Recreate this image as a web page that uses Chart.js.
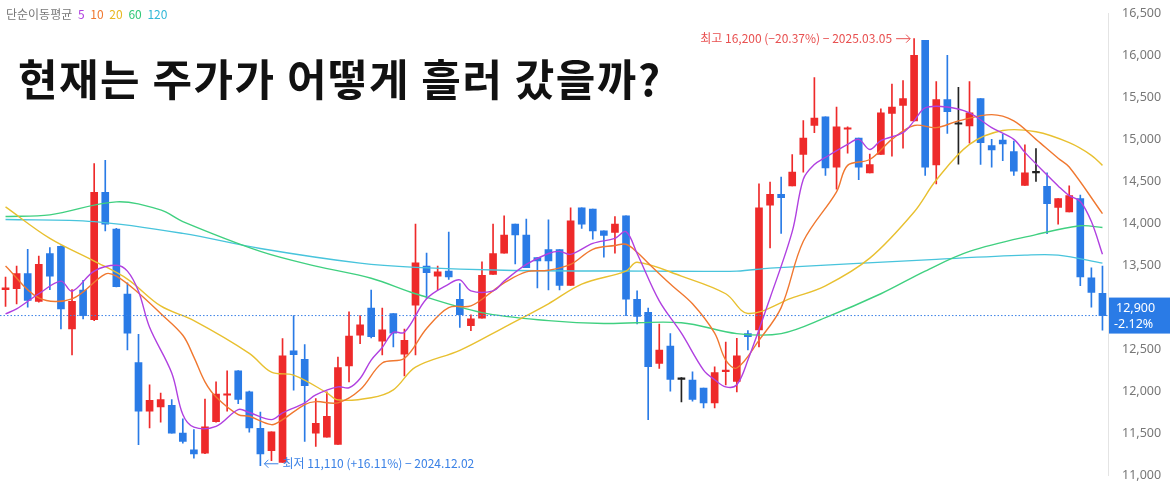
<!DOCTYPE html>
<html>
<head>
<meta charset="utf-8">
<script src="https://cdn.jsdelivr.net/npm/chart.js@4.4.1/dist/chart.umd.min.js"></script>
<style>
  html, body { margin: 0; padding: 0; background: #fff; }
  #wrap { position: relative; width: 1170px; height: 495px; }
  #title { position: absolute; left: 18px; top: 46px; font: 700 43px "Noto Sans CJK KR", sans-serif; color: #111; letter-spacing: 1.5px; }
  #legend { position: absolute; left: 6px; top: 5px; font: 12px "Noto Sans CJK KR", sans-serif; color: #777; }
  #legend span { margin-left: 3px; }
</style>
</head>
<body>
<div id="wrap">
  <canvas id="c" width="1170" height="495"></canvas>
  <div id="legend">단순이동평균 <span style="color:#b040e0">5</span> <span style="color:#f07830">10</span> <span style="color:#e8b820">20</span> <span style="color:#30c878">60</span> <span style="color:#30b8d8">120</span></div>
  <div id="title">현재는 주가가 어떻게 흘러 갔을까?</div>
</div>
<script>
const opens = [13210,13220,13400,13070,13640,13725,12740,13205,12850,14370,13930,13155,12340,11760,11810,11830,11500,11300,11260,11635,
  11950,12240,11990,11555,11290,11150,12480,12380,11500,11450,11365,12300,12665,12990,12595,12925,12440,13025,13490,13370,
  13430,13095,12780,12870,13390,13645,13990,13860,13590,13685,13685,13260,14185,14170,13910,13890,14090,13095,12940,12330,
  12535,12140,12130,12035,11860,12230,12115,12685,12730,14215,14345,14445,14820,15165,15270,14670,15120,15015,14600,14820,
  15310,15405,15220,16180,14695,15475,15180,15160,15485,14925,14990,14855,14450,14600,14440,14190,14135,14295,13350,13165];
const highs = [13360,13490,13690,13610,13710,13730,13210,13320,14710,14750,13940,13290,12675,12075,11975,11900,11670,11540,11905,12110,
  12240,12245,12000,11750,11515,12625,12900,12555,11910,11990,12405,12945,12900,13205,12990,12925,12740,13990,13645,13490,
  13895,13280,12910,13540,13990,14090,13990,14050,13590,14040,13685,14185,14185,14170,13910,14080,14090,13195,12990,12800,
  12685,12160,12230,12035,12290,12585,12630,12720,14470,14490,14550,14820,15225,15735,15270,15385,15150,15015,14825,15365,
  15660,15700,16200,16180,15690,16000,15620,15690,15485,15000,15060,14980,14935,14890,14600,14295,14445,14335,13470,13490];
const lows = [13010,13040,13000,13060,13210,12740,12430,12860,12840,13910,13240,12490,11360,11560,11630,11500,11380,11200,11255,11630,
  11760,11850,11510,11110,11170,11150,12010,11400,11340,11450,11365,12110,12565,12635,12430,12525,12180,12430,13105,13205,
  13330,12760,12720,12870,13390,13645,13515,13470,13230,13205,13205,13260,13940,13810,13595,13645,12900,12800,11660,12270,
  12000,11870,11880,11800,11800,12075,11990,12490,12525,13705,13880,14445,14610,15080,14570,14405,14835,14520,14600,14820,
  14800,14895,15220,14570,14470,15070,14705,14955,14700,14670,14745,14570,14450,14500,13875,13990,14135,13255,13000,12725];
const closes = [13230,13400,13080,13510,13370,12980,13070,12900,14370,13990,13245,12690,11760,11890,11900,11500,11400,11250,11575,11965,
  11965,11900,11560,11250,11515,12420,12435,12065,11615,11700,12280,12655,12790,12650,12730,12690,12605,13530,13410,13420,
  13360,12910,12860,13380,13640,13860,13860,13470,13550,13550,13260,14030,13990,13910,13855,13990,13095,12890,12290,12490,
  12140,12140,11900,11860,12220,12250,12420,12650,14185,14345,14305,14610,15015,15255,14660,15150,15130,14670,14700,15315,
  15385,15485,16000,14670,15475,15330,15180,15315,14960,14875,14945,14620,14600,14600,14235,14295,14330,13360,13175,12900];

// moving averages at selected candles: [candle index, value]
const ma5 = [[0,12920],[1,12980],[3,13160],[5,13310],[6,13190],[8,13430],[10,13500],[11,13430],[12,13190],[13,12760],[15,12215],[16,11720],
  [17,11570],[19,11580],[21,11780],[22,11745],[24,11660],[25,11740],[27,11860],[28,11955],[30,12050],[31,12040],[32,12150],[33,12370],
  [34,12520],[35,12700],[36,12700],[38,13100],[40,13275],[41,13325],[42,13195],[44,13195],[45,13310],[47,13510],[49,13640],[50,13665],
  [51,13630],[53,13760],[55,13820],[56,13900],[57,13640],[59,13075],[61,12690],[63,12250],[64,12135],[65,12050],[66,12075],[67,12370],
  [69,13110],[71,13900],[72,14525],[73,14700],[74,14785],[76,14940],[77,15000],[78,14880],[79,14985],[81,15080],[82,15220],[83,15375],
  [85,15385],[87,15315],[89,15140],[91,15000],[92,14845],[94,14575],[95,14445],[96,14330],[97,14260],[98,14020],[99,13630]];
const ma10 = [[0,13490],[3,13110],[6,13100],[9,13395],[10,13370],[12,13170],[14,12925],[16,12665],[17,12405],[18,12110],[19,11930],[21,11720],
  [22,11700],[24,11600],[25,11660],[27,11840],[28,11875],[30,11860],[32,12015],[34,12335],[36,12390],[38,12745],[40,12995],[42,13015],
  [44,13195],[45,13290],[47,13420],[49,13440],[51,13510],[53,13690],[55,13735],[56,13750],[57,13655],[58,13525],[60,13275],[62,13040],
  [64,12690],[65,12370],[66,12275],[68,12605],[70,12995],[72,13785],[75,14375],[76,14690],[78,14760],[80,15000],[82,15165],[84,15140],
  [86,15220],[89,15295],[91,15220],[93,15000],[95,14775],[96,14670],[99,14115]];
const ma20 = [[0,14195],[4,13820],[8,13550],[11,13335],[14,13015],[17,12840],[22,12450],[24,12225],[26,12190],[29,11980],[30,11895],
  [33,11920],[35,12015],[37,12285],[41,12485],[45,12760],[49,13040],[52,13275],[56,13430],[57,13535],[61,13370],[65,13160],[67,12925],
  [71,13110],[74,13255],[78,13585],[82,14135],[84,14515],[87,14940],[90,15105],[93,15090],[96,14960],[98,14810],[99,14690]];
const ma60 = [[0,14080],[4,14100],[10,14255],[14,14160],[16,14020],[23,13665],[28,13490],[33,13345],[37,13160],[43,12935],[49,12840],
  [54,12805],[61,12815],[66,12685],[70,12685],[74,12875],[79,13160],[83,13430],[87,13665],[93,13865],[97,13970],[99,13950]];
const ma120 = [[0,14045],[8,14020],[16,13880],[23,13700],[32,13525],[37,13475],[45,13440],[58,13430],[66,13430],[69,13465],[84,13570],
  [92,13620],[95,13620],[99,13525]];

const yTicks = [11000,11500,12000,12500,13000,13500,14000,14500,15000,15500,16000,16500];
const lastPrice = 12900;
const lastChange = '-2.12%';
const highNote = '최고 16,200 (−20.37%) − 2025.03.05';
const lowNote = '최저 11,110 (+16.11%) − 2024.12.02';
const highIdx = 82, highVal = 16200, lowIdx = 23, lowVal = 11110;

const labels = opens.map((_, i) => i);
const RED = '#ee2a2a', BLUE = '#2a7be6', BLACK = '#222';
const candleColor = opens.map((o, i) => closes[i] > o ? RED : closes[i] < o ? BLUE : BLACK);

function maSet(points, color) {
  return {
    type: 'line',
    data: points.map(p => ({ x: p[0], y: p[1] })),
    borderColor: color, borderWidth: 1.4, pointRadius: 0, tension: 0.35, order: 0
  };
}

const overlay = {
  id: 'overlay',
  afterDatasetsDraw(chart) {
    const { ctx, scales: { x, y }, chartArea } = chart;
    ctx.save();
    // current price dotted line
    const py = y.getPixelForValue(lastPrice);
    ctx.strokeStyle = '#3b82e6';
    ctx.setLineDash([1.5, 2]);
    ctx.lineWidth = 1;
    ctx.beginPath(); ctx.moveTo(0, py); ctx.lineTo(chartArea.right, py); ctx.stroke();
    ctx.setLineDash([]);
    ctx.fillStyle = '#2a7be6';
    ctx.fillRect(chartArea.right + 1, py - 18, 62, 36);
    ctx.fillStyle = '#fff';
    ctx.font = '12.5px "Noto Sans", sans-serif';
    ctx.textBaseline = 'middle';
    ctx.fillText('12,900', chartArea.right + 8, py - 7);
    ctx.fillText(lastChange, chartArea.right + 6, py + 9);
    // high note
    ctx.font = '12px "Noto Sans CJK KR", sans-serif';
    const hx = x.getPixelForValue(highIdx) - 4, hy = y.getPixelForValue(highVal);
    ctx.fillStyle = '#e85050'; ctx.strokeStyle = '#e85050';
    ctx.textAlign = 'right';
    ctx.fillText(highNote, hx - 18, hy);
    ctx.beginPath(); ctx.moveTo(hx - 14, hy); ctx.lineTo(hx, hy);
    ctx.moveTo(hx - 4, hy - 4); ctx.lineTo(hx, hy); ctx.lineTo(hx - 4, hy + 4); ctx.stroke();
    // low note
    const lx = x.getPixelForValue(lowIdx) + 4, ly = y.getPixelForValue(lowVal) - 2;
    ctx.fillStyle = '#3b82e6'; ctx.strokeStyle = '#3b82e6';
    ctx.textAlign = 'left';
    ctx.fillText(lowNote, lx + 18, ly);
    ctx.beginPath(); ctx.moveTo(lx, ly); ctx.lineTo(lx + 14, ly);
    ctx.moveTo(lx + 4, ly - 4); ctx.lineTo(lx, ly); ctx.lineTo(lx + 4, ly + 4); ctx.stroke();
    ctx.restore();
  }
};

new Chart(document.getElementById('c'), {
  data: {
    labels: labels,
    datasets: [
      maSet(ma5, '#b040e0'), maSet(ma10, '#f07830'), maSet(ma20, '#e8c030'),
      maSet(ma60, '#40d080'), maSet(ma120, '#48c4dc'),
      {
        type: 'bar', order: 2,
        data: labels.map(i => [lows[i], highs[i]]),
        backgroundColor: candleColor, barThickness: 1, grouped: false
      },
      {
        type: 'bar', order: 1,
        data: labels.map(i => [opens[i], closes[i]]),
        backgroundColor: candleColor, barThickness: 7, grouped: false, minBarLength: 1.5
      }
    ]
  },
  options: {
    responsive: false,
    animation: false,
    layout: { padding: { top: 8, bottom: 20, left: 0, right: 0 } },
    plugins: { legend: { display: false }, tooltip: { enabled: false } },
    scales: {
      x: { display: false, offset: true },
      y: {
        position: 'right', min: 11000, max: 16500,
        afterFit(s) { s.width = 62; },
        afterBuildTicks(s) { s.ticks = yTicks.map(v => ({ value: v })); },
        grid: { display: false, drawTicks: true },
        border: { color: '#e4e4e4' },
        ticks: {
          color: '#777', font: { size: 12.5, family: '"Noto Sans", sans-serif' }, padding: 6,
          callback: v => v.toLocaleString('en-US')
        }
      }
    }
  },
  plugins: [overlay]
});
</script>
</body>
</html>
